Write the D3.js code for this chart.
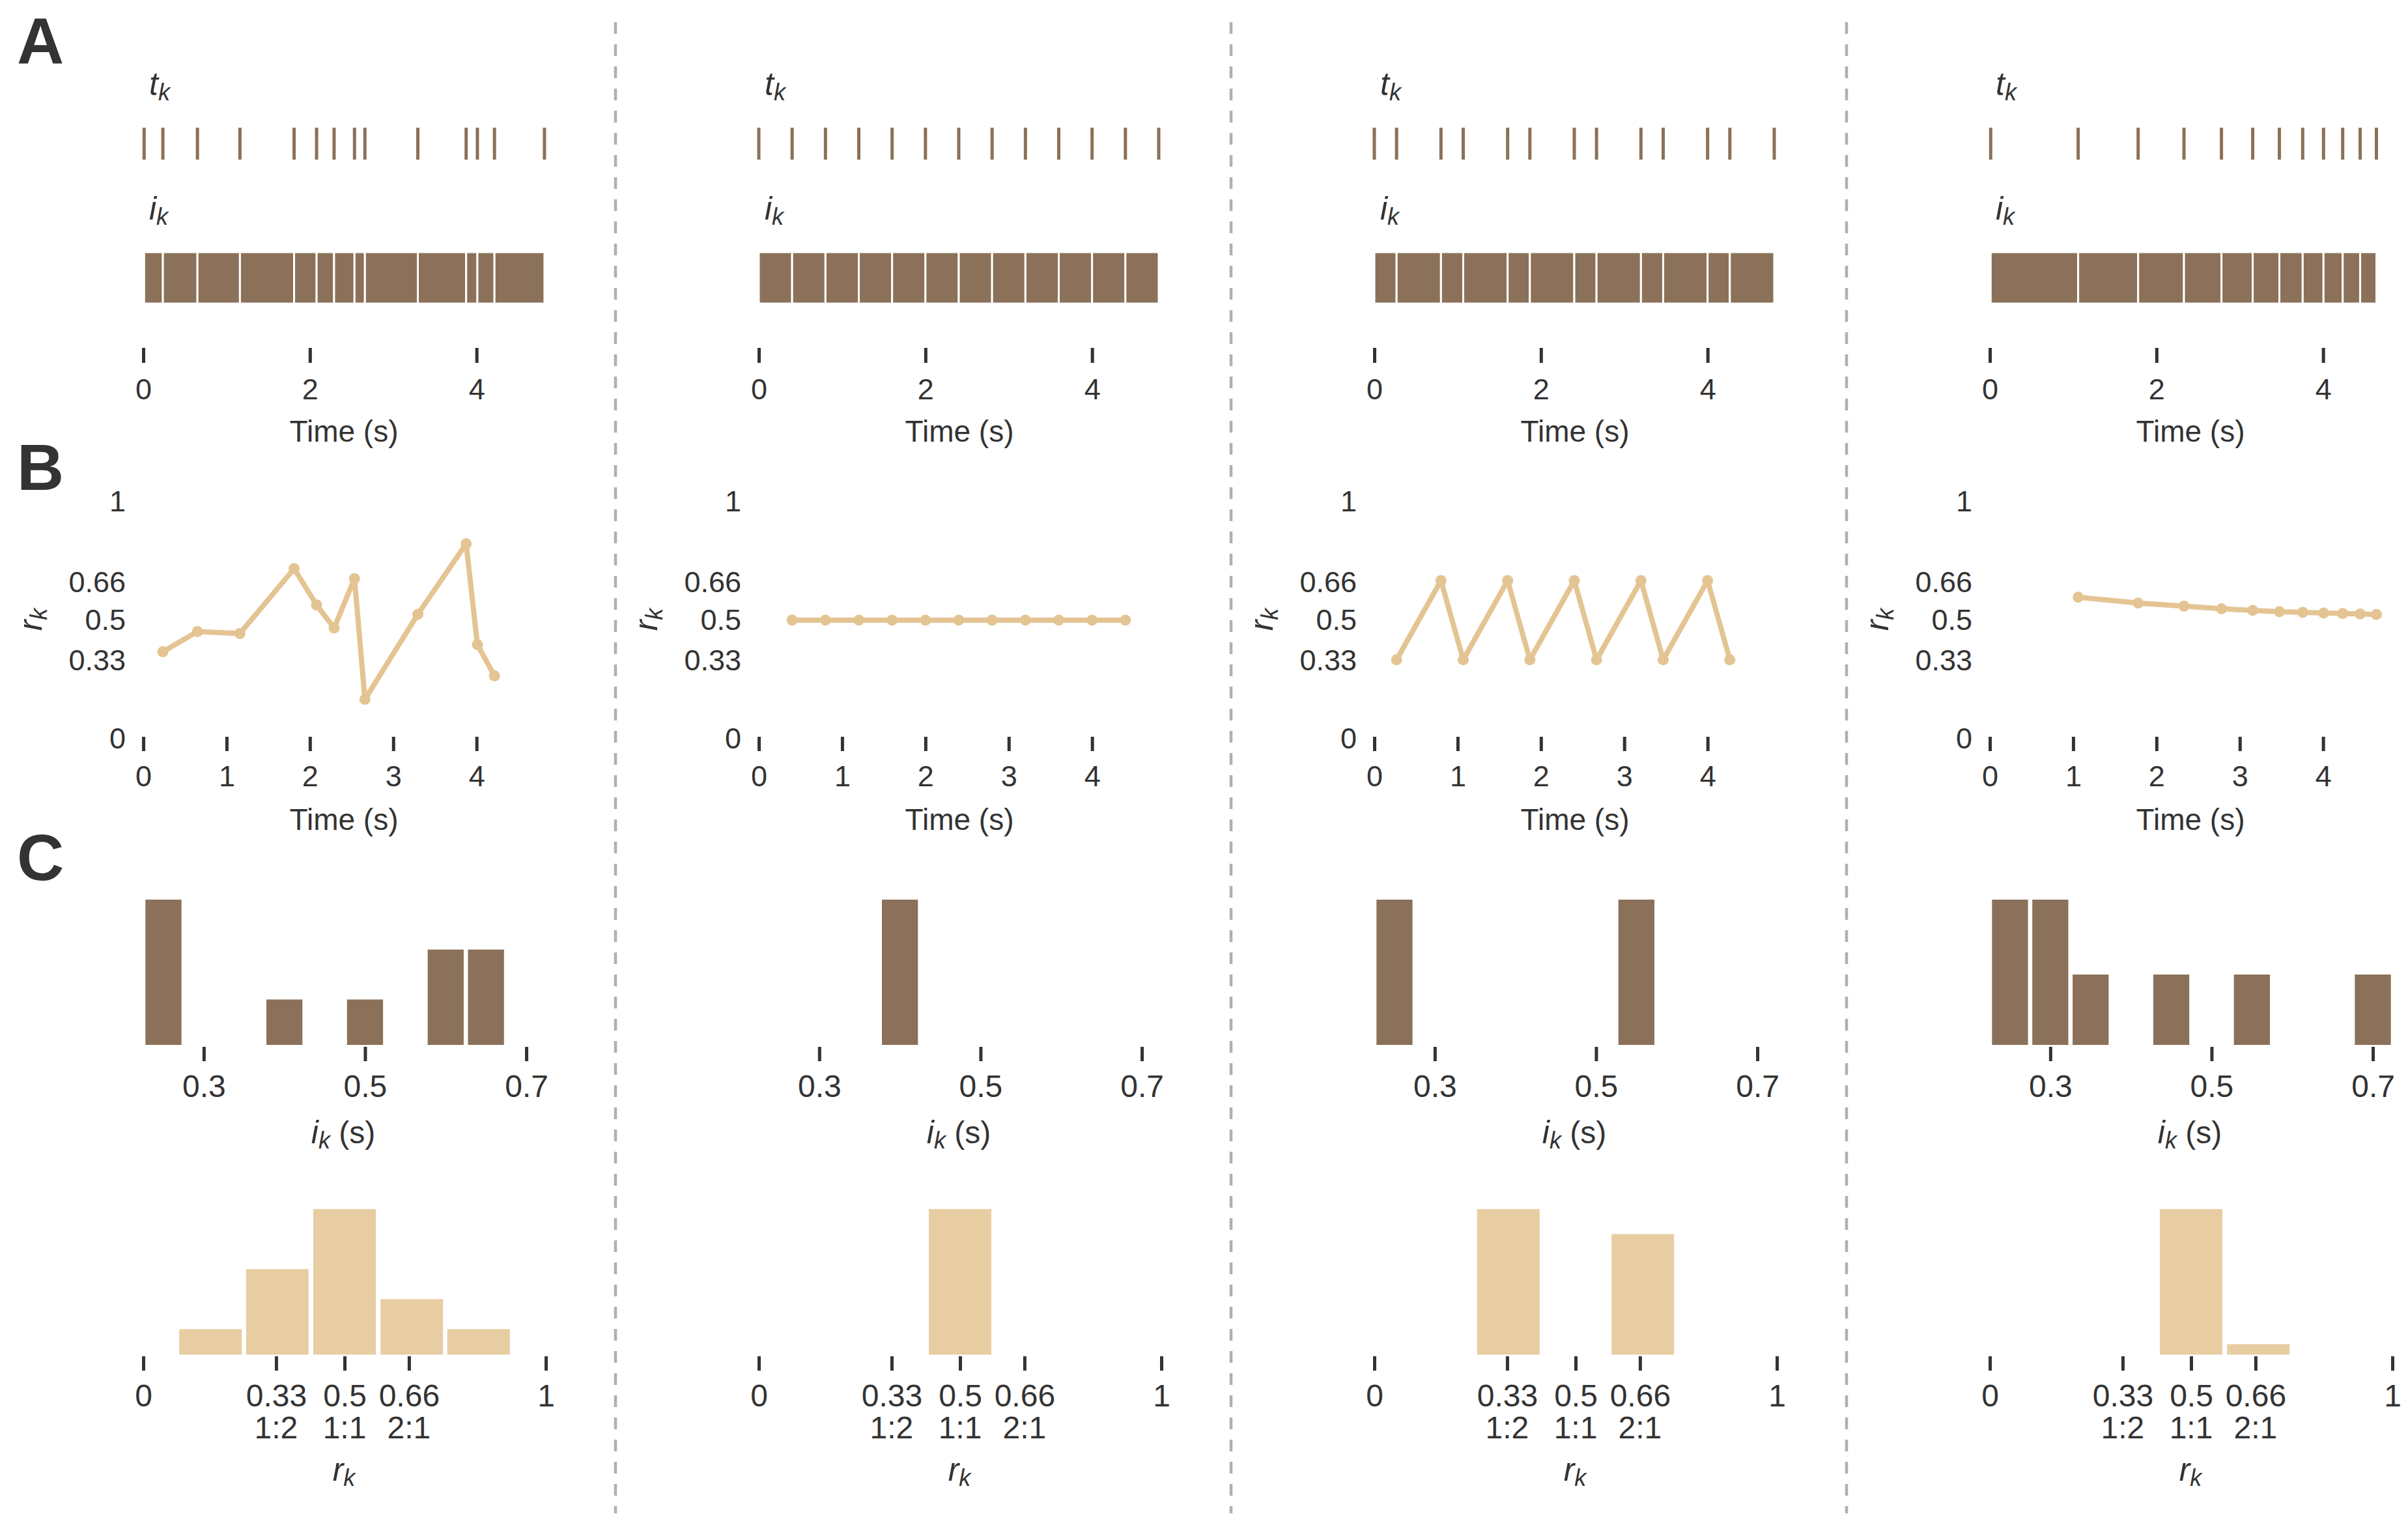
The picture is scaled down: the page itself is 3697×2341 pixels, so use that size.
<!DOCTYPE html>
<html>
<head>
<meta charset="utf-8">
<script src="https://cdn.jsdelivr.net/npm/d3@7"></script>
<style>
  body { margin: 0; background: #fff; }
  text { font-family: "Liberation Sans", Arial, Helvetica, sans-serif; fill: #333333; }
</style>
</head>
<body>
<div class="figure"></div>
<script>
// onset times t_k (s), one list per column
let ONSETS_1 = [0.01, 0.235, 0.65, 1.16, 1.81, 2.08, 2.29, 2.535, 2.66, 3.295, 3.875, 4.01, 4.215, 4.815];
let ONSETS_2 = [0, 0.4, 0.8, 1.2, 1.6, 2.0, 2.4, 2.8, 3.2, 3.6, 4.0, 4.4, 4.8];
let ONSETS_3 = [0, 0.267, 0.8, 1.067, 1.6, 1.867, 2.4, 2.667, 3.2, 3.467, 4.0, 4.267, 4.8];
let ONSETS_4 = [0.01, 1.06, 1.78, 2.33, 2.78, 3.155, 3.475, 3.755, 4.005, 4.235, 4.445, 4.64];

// ratios r_k, drawn at onset k+1
let RATIOS_1 = [0.367, 0.452, 0.444, 0.717, 0.564, 0.467, 0.675, 0.166, 0.525, 0.822, 0.397, 0.265];
let RATIOS_2 = [0.5, 0.5, 0.5, 0.5, 0.5, 0.5, 0.5, 0.5, 0.5, 0.5, 0.5];
let RATIOS_3 = [0.333, 0.667, 0.333, 0.667, 0.333, 0.667, 0.333, 0.667, 0.333, 0.667, 0.333];
let RATIOS_4 = [0.597, 0.572, 0.559, 0.548, 0.541, 0.536, 0.533, 0.530, 0.528, 0.526, 0.524];

// interval histograms: bin centres (s) and counts
let IOI_BINS_1 = [0.25, 0.40, 0.50, 0.60, 0.65];
let IOI_COUNTS_1 = [3, 1, 1, 2, 2];
let IOI_BINS_2 = [0.40];
let IOI_COUNTS_2 = [12];
let IOI_BINS_3 = [0.25, 0.55];
let IOI_COUNTS_3 = [6, 6];
let IOI_BINS_4 = [0.25, 0.30, 0.35, 0.45, 0.55, 0.70];
let IOI_COUNTS_4 = [2, 2, 1, 1, 1, 1];
let IOI_BIN_WIDTH = 0.05;

// ratio histograms: bin centres and counts
let R_BINS_1 = [0.167, 0.333, 0.5, 0.667, 0.833];
let R_COUNTS_1 = [1, 3, 5, 2, 1];
let R_BINS_2 = [0.5];
let R_COUNTS_2 = [11];
let R_BINS_3 = [0.333, 0.667];
let R_COUNTS_3 = [6, 5];
let R_BINS_4 = [0.5, 0.667];
let R_COUNTS_4 = [10, 1];
let R_BIN_WIDTH = 0.1667;

// ticks
let TIME_TICKS_A = [0, 2, 4];
let TIME_TICKS_B = [0, 1, 2, 3, 4];
let RK_Y_TICKS = [0, 0.33, 0.5, 0.66, 1];
let RK_TICKS = [0, 0.33, 0.5, 0.66, 1];
let RK_TICK_LABELS = ["0", "0.33", "0.5", "0.66", "1"];
let RK_TICK_NAMES = ["", "1:2", "1:1", "2:1", ""];
let IOI_TICKS = [0.3, 0.5, 0.7];

let FRAME_WIDTH = 3697;
let FRAME_HEIGHT = 2341;
let COL_STEP = 945;

let BROWN = "#8b7159";
let TAN_BAR = "#e8cda3";
let TAN_LINE = "#e4c493";
let INK = "#333333";

let FRAME = d3.select(".figure")
              .append("svg")
              .attr("width", FRAME_WIDTH)
              .attr("height", FRAME_HEIGHT);

const COLUMNS = [
  {onsets: ONSETS_1, ratios: RATIOS_1, ioiBins: IOI_BINS_1, ioiCounts: IOI_COUNTS_1, rBins: R_BINS_1, rCounts: R_COUNTS_1},
  {onsets: ONSETS_2, ratios: RATIOS_2, ioiBins: IOI_BINS_2, ioiCounts: IOI_COUNTS_2, rBins: R_BINS_2, rCounts: R_COUNTS_2},
  {onsets: ONSETS_3, ratios: RATIOS_3, ioiBins: IOI_BINS_3, ioiCounts: IOI_COUNTS_3, rBins: R_BINS_3, rCounts: R_COUNTS_3},
  {onsets: ONSETS_4, ratios: RATIOS_4, ioiBins: IOI_BINS_4, ioiCounts: IOI_COUNTS_4, rBins: R_BINS_4, rCounts: R_COUNTS_4}
];

function styleAxis(g, size) {
  g.select(".domain").remove();
  g.attr("font-size", size || 45).attr("font-family", null);
  g.selectAll(".tick line").attr("stroke", INK).attr("stroke-width", 5);
  g.selectAll(".tick text").attr("fill", INK);
}

// italic letter with italic subscript, optional plain suffix
function mathLabel(g, x, y, main, sub, suffix, anchor) {
  let t = g.append("text")
           .attr("x", x).attr("y", y)
           .attr("text-anchor", anchor || "start");
  t.append("tspan").attr("font-style", "italic").attr("font-size", 50).text(main);
  t.append("tspan").attr("font-style", "italic").attr("font-size", 36).attr("dy", 8).text(sub);
  if (suffix) {
    t.append("tspan").attr("font-size", 48).attr("dy", -8).text(suffix);
  }
  return t;
}

// dashed separators
[1, 2, 3].forEach((i) => {
  FRAME.append("line")
       .attr("x1", i * COL_STEP).attr("x2", i * COL_STEP)
       .attr("y1", 34).attr("y2", 2323)
       .attr("stroke", "#b0b0b0")
       .attr("stroke-width", 4.5)
       .attr("stroke-dasharray", "18 16");
});

// panel letters
[["A", 98], ["B", 752], ["C", 1351]].forEach((p) => {
  FRAME.append("text")
       .attr("x", 26).attr("y", p[1])
       .attr("font-size", 100)
       .attr("font-weight", "bold")
       .text(p[0]);
});

COLUMNS.forEach((col, c) => {
  let G = FRAME.append("g").attr("transform", "translate(" + (c * COL_STEP) + ",0)");

  const X_TIME = d3.scaleLinear().domain([0, 4.8]).range([220, 834]);

  // ---- A: onsets and intervals
  mathLabel(G, 229, 146, "t", "k");
  G.selectAll(".spike")
   .data(col.onsets)
   .enter()
   .append("line")
     .attr("x1", (d) => {return X_TIME(d)})
     .attr("x2", (d) => {return X_TIME(d)})
     .attr("y1", 196).attr("y2", 245)
     .attr("stroke", BROWN)
     .attr("stroke-width", 5);

  mathLabel(G, 229, 337, "i", "k");
  let intervals = d3.pairs(col.onsets);
  G.selectAll(".ioi")
   .data(intervals)
   .enter()
   .append("rect")
     .attr("x", (d) => {return X_TIME(d[0])})
     .attr("width", (d) => {return X_TIME(d[1]) - X_TIME(d[0])})
     .attr("y", 387)
     .attr("height", 79)
     .attr("fill", BROWN)
     .attr("stroke", "#fff")
     .attr("stroke-width", 3);

  G.append("g")
   .attr("transform", "translate(0,534)")
   .call(d3.axisBottom(X_TIME).tickValues(TIME_TICKS_A).tickSize(23).tickPadding(24).tickFormat(d3.format("d")))
   .call(styleAxis);

  G.append("text")
   .attr("x", 528).attr("y", 678)
   .attr("text-anchor", "middle")
   .attr("font-size", 46)
   .text("Time (s)");

  // ---- B: ratios over time
  const Y_R = d3.scaleLinear().domain([0, 1]).range([1134, 770]);

  G.append("g")
   .attr("transform", "translate(220,0)")
   .call(d3.axisLeft(Y_R).tickValues(RK_Y_TICKS).tickSize(0).tickPadding(27)
           .tickFormat((d) => {return String(d)}))
   .call(styleAxis);

  G.append("g")
   .attr("transform", "translate(64,951) rotate(-90)")
   .call((g) => {mathLabel(g, 0, 0, "r", "k", null, "middle")});

  let pts = col.ratios.map((r, i) => {return {t: col.onsets[i + 1], r: r}});
  G.append("path")
   .datum(pts)
   .attr("fill", "none")
   .attr("stroke", TAN_LINE)
   .attr("stroke-width", 8)
   .attr("stroke-linejoin", "round")
   .attr("d", d3.line().x((d) => {return X_TIME(d.t)}).y((d) => {return Y_R(d.r)}));

  G.selectAll(".pt")
   .data(pts)
   .enter()
   .append("circle")
     .attr("cx", (d) => {return X_TIME(d.t)})
     .attr("cy", (d) => {return Y_R(d.r)})
     .attr("r", 8.5)
     .attr("fill", TAN_LINE);

  G.append("g")
   .attr("transform", "translate(0,1131)")
   .call(d3.axisBottom(X_TIME).tickValues(TIME_TICKS_B).tickSize(22).tickPadding(22).tickFormat(d3.format("d")))
   .call(styleAxis);

  G.append("text")
   .attr("x", 528).attr("y", 1274)
   .attr("text-anchor", "middle")
   .attr("font-size", 46)
   .text("Time (s)");

  // ---- C: interval histogram
  const X_IOI = d3.scaleLinear().domain([0.225, 0.725]).range([220, 839]);
  const Y_IOI = d3.scaleLinear().domain([0, d3.max(col.ioiCounts)]).range([1611, 1381]);
  let ioiHist = col.ioiBins.map((b, i) => {return {b: b, n: col.ioiCounts[i]}});

  G.selectAll(".ioih")
   .data(ioiHist)
   .enter()
   .append("rect")
     .attr("x", (d) => {return X_IOI(d.b - IOI_BIN_WIDTH / 2) + 3.3})
     .attr("width", (d) => {return X_IOI(d.b + IOI_BIN_WIDTH / 2) - X_IOI(d.b - IOI_BIN_WIDTH / 2) - 6.6})
     .attr("y", (d) => {return Y_IOI(d.n)})
     .attr("height", (d) => {return 1604 - Y_IOI(d.n)})
     .attr("fill", BROWN);

  G.append("g")
   .attr("transform", "translate(0,1607)")
   .call(d3.axisBottom(X_IOI).tickValues(IOI_TICKS).tickSize(22).tickPadding(21).tickFormat(d3.format(".1f")))
   .call((g) => {styleAxis(g, 48)});

  mathLabel(G, 527, 1755, "i", "k", " (s)", "middle");

  // ---- C: ratio histogram
  const X_RK = d3.scaleLinear().domain([0, 1]).range([220, 838]);
  const Y_RK = d3.scaleLinear().domain([0, d3.max(col.rCounts)]).range([2086.5, 1856]);
  let rHist = col.rBins.map((b, i) => {return {b: b, n: col.rCounts[i]}});

  G.selectAll(".rh")
   .data(rHist)
   .enter()
   .append("rect")
     .attr("x", (d) => {return X_RK(d.b - R_BIN_WIDTH / 2) + 3.5})
     .attr("width", (d) => {return X_RK(d.b + R_BIN_WIDTH / 2) - X_RK(d.b - R_BIN_WIDTH / 2) - 7})
     .attr("y", (d) => {return Y_RK(d.n)})
     .attr("height", (d) => {return 2079.5 - Y_RK(d.n)})
     .attr("fill", TAN_BAR);

  G.append("g")
   .attr("transform", "translate(0,2082)")
   .call(d3.axisBottom(X_RK).tickValues(RK_TICKS).tickSize(22).tickPadding(21)
           .tickFormat((d, i) => {return RK_TICK_LABELS[i]}))
   .call((g) => {styleAxis(g, 48)});

  G.selectAll(".rname")
   .data(RK_TICKS)
   .enter()
   .append("text")
     .attr("x", (d) => {return X_RK(d)})
     .attr("y", 2208)
     .attr("text-anchor", "middle")
     .attr("font-size", 48)
     .text((d, i) => {return RK_TICK_NAMES[i]});

  mathLabel(G, 528, 2273, "r", "k", null, "middle");
});
</script>
</body>
</html>
